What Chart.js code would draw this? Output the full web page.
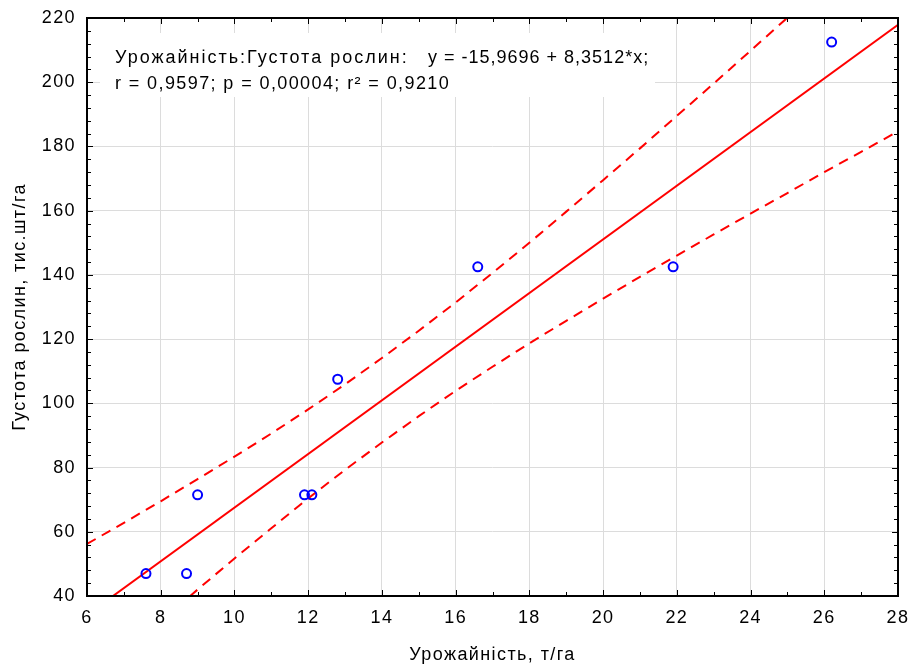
<!DOCTYPE html>
<html>
<head>
<meta charset="utf-8">
<script src="https://cdn.jsdelivr.net/npm/chart.js@4"></script>
<style>
  html, body { margin: 0; padding: 0; background: #fff; }
  #wrap { width: 914px; height: 670px; }
</style>
</head>
<body>
<div id="wrap"><canvas id="chart"></canvas></div>
<script>
/* ------------------------------
 * data
 * ------------------------------ */
const yieldX   = [7.6, 8.7, 9.0, 11.9, 12.1, 12.8, 16.6, 21.9, 26.2];
const densityY = [47, 47, 71.5, 71.5, 71.5, 107.5, 142.5, 142.5, 212.5];

// regression line ends
const fitX = [6, 28];
const fitY = [34.1, 217.9];

// 95% band (dashed), read every 1 t/ha
const bandX  = [6, 7, 8, 9, 10, 11, 12, 13, 14, 15, 16, 17, 18, 19, 20, 21, 22, 23, 24, 25, 26, 27, 28];
const upperY = [56.2, 62.8, 69.5, 76.4, 83.4, 90.6, 98.1, 105.9, 114.1, 122.6, 131.4, 140.6, 150.0, 159.7, 169.5, 179.4, 189.5, 199.6, 209.8, 220.1, 230.4, 240.7, 251.1];
const lowerY = [12.1, 22.2, 32.1, 42.0, 51.7, 61.1, 70.4, 79.3, 87.8, 96.0, 103.9, 111.4, 118.7, 125.7, 132.6, 139.4, 146.0, 152.6, 159.1, 165.5, 172.0, 178.3, 184.7];

const xTickValues = [6, 8, 10, 12, 14, 16, 18, 20, 22, 24, 26, 28];
const yTickValues = [40, 60, 80, 100, 120, 140, 160, 180, 200, 220];

const noteName = 'Урожайність:Густота рослин:';
const noteEq   = 'y = -15,9696 + 8,3512*x;';
const noteStat = 'r = 0,9597; p = 0,00004; r² = 0,9210';

const FONT = '"Liberation Sans", Arial, sans-serif';
const SPACING = '1.4px';   // statistica text is drawn wide
const RED = '#ff0000';

const toXY = (xs, ys) => xs.map((v, i) => ({ x: v, y: ys[i] }));

/* ------------------------------
 * wide text
 * ------------------------------ */
const wideText = {
  id: 'wideText',
  beforeLayout(chart) { chart.ctx.letterSpacing = SPACING; },
  beforeDraw(chart) { chart.ctx.letterSpacing = SPACING; }
};

/* ------------------------------
 * frame, inner ticks, equation box
 * ------------------------------ */
const frameTicks = {
  id: 'frameTicks',
  beforeDatasetsDraw(chart) {
    const { ctx } = chart;
    ctx.save();
    ctx.fillStyle = '#fff';
    ctx.fillRect(100, 33, 555, 64);
    ctx.fillStyle = '#000';
    ctx.font = '18px ' + FONT;
    ctx.textBaseline = 'alphabetic';
    ctx.letterSpacing = '2px';
    ctx.fillText(noteName, 115, 63);
    ctx.letterSpacing = '1px';
    ctx.fillText(noteEq, 428, 63);
    ctx.letterSpacing = SPACING;
    ctx.fillText(noteStat, 115, 89);
    ctx.restore();
  },
  afterDraw(chart) {
    const { ctx, chartArea: a, scales: { x, y } } = chart;
    ctx.save();
    ctx.strokeStyle = '#000';
    ctx.lineWidth = 1;
    ctx.beginPath();
    for (let v = 6; v <= 28; v += 1) {
      const px = Math.round(x.getPixelForValue(v)) + 0.5;
      const len = v % 2 === 0 ? 6 : 4;
      ctx.moveTo(px, a.bottom); ctx.lineTo(px, a.bottom - len);
      ctx.moveTo(px, a.top);    ctx.lineTo(px, a.top + len);
    }
    for (let v = 40; v <= 220; v += 4) {
      const py = Math.round(y.getPixelForValue(v)) + 0.5;
      const len = v % 20 === 0 ? 6 : 4;
      ctx.moveTo(a.left, py);  ctx.lineTo(a.left + len, py);
      ctx.moveTo(a.right, py); ctx.lineTo(a.right - len, py);
    }
    ctx.stroke();
    ctx.lineWidth = 2;
    ctx.strokeRect(a.left, a.top, a.right - a.left, a.bottom - a.top);
    ctx.restore();
  }
};

new Chart(document.getElementById('chart'), {
  type: 'scatter',
  plugins: [wideText, frameTicks],
  data: {
    datasets: [
      {
        label: 'points',
        data: toXY(yieldX, densityY),
        pointRadius: 4.5,
        pointBorderWidth: 2,
        pointBorderColor: '#0000ff',
        pointBackgroundColor: 'rgba(0,0,0,0)'
      },
      {
        label: 'fit',
        data: toXY(fitX, fitY),
        showLine: true,
        pointRadius: 0,
        borderColor: RED,
        borderWidth: 2
      },
      {
        label: 'upper',
        data: toXY(bandX, upperY),
        showLine: true,
        pointRadius: 0,
        borderColor: RED,
        borderWidth: 2,
        borderDash: [10, 7]
      },
      {
        label: 'lower',
        data: toXY(bandX, lowerY),
        showLine: true,
        pointRadius: 0,
        borderColor: RED,
        borderWidth: 2,
        borderDash: [10, 7]
      }
    ]
  },
  options: {
    responsive: true,
    maintainAspectRatio: false,
    devicePixelRatio: 1,
    animation: false,
    layout: { padding: { top: 18, right: 16, left: 0, bottom: 0 } },
    scales: {
      x: {
        type: 'linear',
        min: 6,
        max: 28,
        afterBuildTicks: s => { s.ticks = xTickValues.map(v => ({ value: v })); },
        afterFit: s => { s.height = 74; s.paddingLeft = 0; s.paddingRight = 0; },
        grid: { color: '#dcdcdc', lineWidth: 1, drawTicks: false },
        border: { display: false },
        ticks: { color: '#000', padding: 11, font: { family: FONT, size: 18 } },
        title: {
          display: true,
          text: 'Урожайність, т/га',
          color: '#000',
          font: { family: FONT, size: 18 },
          padding: { top: 0, bottom: 4 }
        }
      },
      y: {
        type: 'linear',
        min: 40,
        max: 220,
        afterBuildTicks: s => { s.ticks = yTickValues.map(v => ({ value: v })); },
        afterFit: s => { s.width = 87; s.paddingTop = 0; s.paddingBottom = 0; },
        grid: { color: '#dcdcdc', lineWidth: 1, drawTicks: false },
        border: { display: false },
        ticks: { color: '#000', padding: 11, font: { family: FONT, size: 18 } },
        title: {
          display: true,
          text: 'Густота рослин, тис.шт/га',
          color: '#000',
          font: { family: FONT, size: 18 },
          padding: { top: 9, bottom: 0 }
        }
      }
    },
    plugins: {
      legend: { display: false },
      tooltip: { enabled: false }
    }
  }
});
</script>
</body>
</html>
